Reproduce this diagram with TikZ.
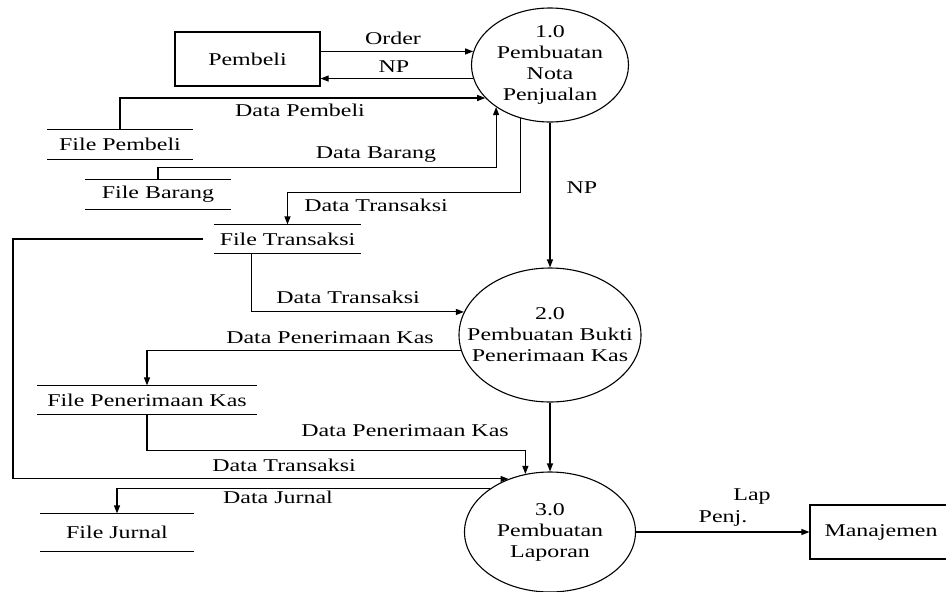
\documentclass[tikz,border=0pt]{standalone}
\usepackage{fontspec}
\setmainfont{Liberation Serif}[FakeStretch=1.33]
\usetikzlibrary{shapes.geometric,arrows.meta}
\begin{document}
\begin{tikzpicture}[x=1pt,y=-1pt,line width=1.1pt,
  every node/.style={font=\fontsize{18}{21}\selectfont},
  proc/.style={ellipse,draw,inner sep=0pt},
  proctext/.style={align=center,inner sep=0pt},
  ent/.style={rectangle,draw,inner sep=0pt},
  store/.style={inner sep=0pt},
  lbl/.style={inner sep=0pt},
  arr/.style={-{Triangle[length=8pt,width=6pt]}}]
\fill[white] (0,0) rectangle (946,592);
\useasboundingbox (0,0) rectangle (946,592);
\clip (0,0) rectangle (946,592);

% external entities
\node[ent,minimum width=145pt,minimum height=54pt] (pb) at (247.5,59) {Pembeli};
\node[ent,minimum width=142pt,minimum height=54pt] (mj) at (881,532) {Manajemen};

% processes
\node[proc,minimum width=157pt,minimum height=114pt] (p1) at (550,65) {};
\node[proctext] (p1t) at (p1) {1.0\\Pembuatan\\Nota\\Penjualan};
\node[proc,minimum width=182pt,minimum height=134pt] (p2) at (550,335) {};
\node[proctext] (p2t) at (p2) {2.0\\Pembuatan Bukti\\Penerimaan Kas};
\node[proc,minimum width=171pt,minimum height=120pt] (p3) at (550,532) {};
\node[proctext] (p3t) at (p3) {3.0\\Pembuatan\\Laporan};

% data stores
\node[store,minimum width=144pt,minimum height=29pt] (fp) at (120,144.5) {File Pembeli};
\node[store,minimum width=144pt,minimum height=29pt] (fb) at (158,194.5) {File Barang};
\node[store,minimum width=145pt,minimum height=28pt] (ft) at (287.5,239) {File Transaksi};
\node[store,minimum width=218pt,minimum height=28pt] (fk) at (147,400) {File Penerimaan Kas};
\node[store,minimum width=152pt,minimum height=37pt] (fj) at (117,532.5) {File Jurnal};
\foreach \s in {fp,fb,ft,fk,fj}
  \draw (\s.north west) -- (\s.north east) (\s.south west) -- (\s.south east);

% flows
\draw[arr] (pb.east |- p1.170) -- (p1.170);
\draw[arr] (p1.190) -- (pb.east |- p1.190);
\draw[arr] (fp.north) |- (p1.207);
\draw[arr] (fb.north) -- ++(0,-12) -| (p1.218);
\draw[arr] (p1.241) |- ([yshift=32pt]ft.north) -- (ft.north);
\draw[arr] (p1.south) -- (p2.north);
\draw[arr] ([xshift=37pt]ft.south west) |- (p2.165);
\draw[arr] (p2.190) -| (fk.north);
\draw[arr] (fk.south) -- ++(0,36) -| (p3.113);
\draw[arr] (p2.south) -- (p3.north);
\coordinate (lx) at (13,239);
\draw[arr] ([xshift=-11pt]ft.west) -- (lx) |- (p3.128);
\draw[arr] (p3.144) -| (fj.north);
\draw[arr] (p3.east) -- (mj.west);

% labels
\node[lbl] (lorder) at (393,38) {Order};
\node[lbl] (lnp1) at (394,67) {NP};
\node[lbl] (ldp) at (300,110) {Data Pembeli};
\node[lbl] (ldb) at (376,155) {Data Barang};
\node[lbl] (ldt1) at (376,205) {Data Transaksi};
\node[lbl] (lnp2) at (582,188) {NP};
\node[lbl] (ldt2) at (348,297) {Data Transaksi};
\node[lbl] (ldk1) at (330,338) {Data Penerimaan Kas};
\node[lbl] (ldk2) at (405,431) {Data Penerimaan Kas};
\node[lbl] (ldt3) at (284,465) {Data Transaksi};
\node[lbl] (ldj) at (278,497) {Data Jurnal};
\node[lbl] (llap) at (752,497) {Lap};
\node[lbl] (lpenj) at (723,518) {Penj.};
\end{tikzpicture}
\end{document}
